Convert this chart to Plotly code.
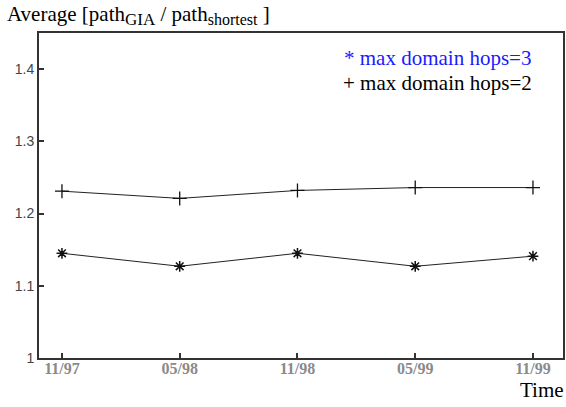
import plotly.graph_objects as go

x_labels = ["11/97", "05/98", "11/98", "05/99", "11/99"]
hops3 = [1.145, 1.127, 1.145, 1.127, 1.141]
hops2 = [1.231, 1.221, 1.232, 1.236, 1.236]
y_ticks = [1, 1.1, 1.2, 1.3, 1.4]
y_tick_text = ["1", "1.1", "1.2", "1.3", "1.4"]

xi = list(range(len(x_labels)))

SERIF = "Liberation Serif"

fig = go.Figure()
fig.add_trace(go.Scatter(x=xi, y=hops2, mode="lines+markers",
                         line=dict(color="#222", width=1),
                         marker=dict(symbol="cross-thin", size=10,
                                     line=dict(color="#111", width=1.3)),
                         showlegend=False))
fig.add_trace(go.Scatter(x=xi, y=hops3, mode="lines+markers",
                         line=dict(color="#222", width=1),
                         marker=dict(symbol="asterisk", size=9,
                                     line=dict(color="#111", width=1.5)),
                         showlegend=False))

fig.update_layout(
    width=566, height=407,
    margin=dict(l=39, r=3, t=33, b=49),
    plot_bgcolor="white", paper_bgcolor="white",
    xaxis=dict(range=[-0.195, 4.255], tickmode="array", tickvals=xi, ticktext=x_labels,
               ticks="inside", ticklen=5, tickcolor="#333", tickwidth=1.5,
               showline=True, linecolor="#333", linewidth=2, mirror=True,
               showgrid=False, zeroline=False, automargin=False, ticklabelstandoff=-5,
               tickfont=dict(family=SERIF, size=16, color="#8a8a8a", weight="bold")),
    yaxis=dict(range=[1, 1.45], tickmode="array", tickvals=y_ticks, ticktext=y_tick_text,
               ticks="inside", ticklen=5, tickcolor="#333", tickwidth=1.5,
               showline=True, linecolor="#333", linewidth=2, mirror=True,
               showgrid=False, zeroline=False, automargin=False,
               tickfont=dict(family="Liberation Sans", size=14, color="#444")),
    annotations=[
        dict(text="Average [path<sub><span style='font-size:17px'>GIA</span></sub> / "
                  "path<sub><span style='font-size:16px'>shortest</span></sub> ]",
             xref="paper", yref="paper", x=-0.065, y=1.0, yshift=18, xanchor="left", yanchor="middle",
             showarrow=False, font=dict(family=SERIF, size=21, color="black")),
        dict(text="Time", xref="paper", yref="paper", x=1.0, y=0, yshift=-32, xshift=3,
             xanchor="right", yanchor="middle", showarrow=False,
             font=dict(family=SERIF, size=21, color="black")),
        dict(text="* max domain hops=3", xref="paper", yref="paper", x=0.578, y=1, yshift=-25,
             xanchor="left", yanchor="middle", showarrow=False,
             font=dict(family=SERIF, size=21, color="#1a1aff")),
        dict(text="+ max domain hops=2", xref="paper", yref="paper", x=0.576, y=1, yshift=-50,
             xanchor="left", yanchor="middle", showarrow=False,
             font=dict(family=SERIF, size=21, color="black")),
    ],
)

fig.write_html("out.html", config={"displayModeBar": False},
               post_script="document.body.style.margin='0';document.body.style.overflow='hidden';")
